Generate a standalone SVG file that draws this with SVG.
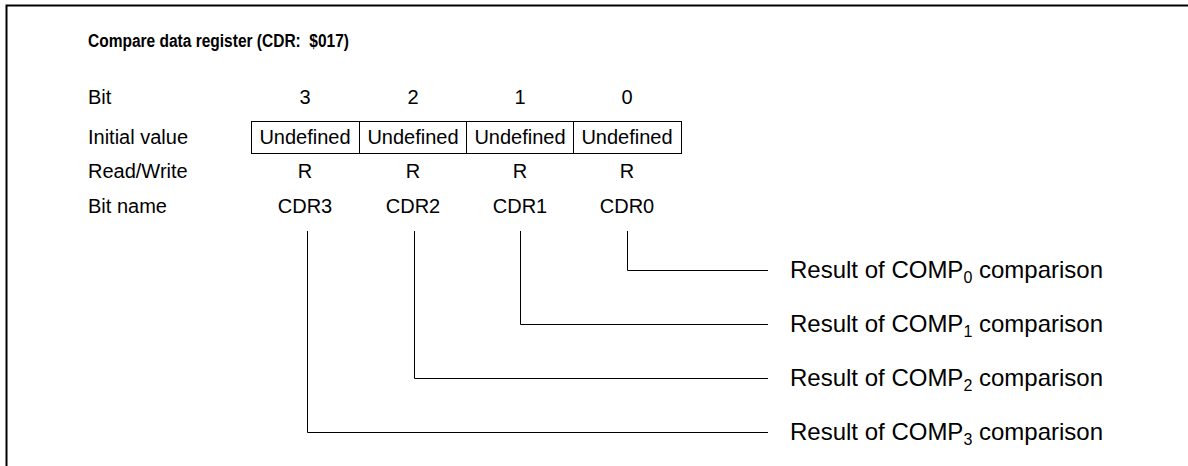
<svg xmlns="http://www.w3.org/2000/svg" width="1188" height="466" viewBox="0 0 1188 466">
<style>
text{font-family:"Liberation Sans",Arial,sans-serif;font-size:20px;fill:#000}
.t{font-weight:bold;font-size:18px}
.c{text-anchor:middle}
.u{font-size:20px}
.r{font-size:24px}
.s{font-size:16px}
.ln{fill:none;stroke:#000;stroke-width:1}
.fr{fill:none;stroke:#000;stroke-width:2}
</style>
<rect width="1188" height="466" fill="#fff"/>
<path class="fr" d="M6.5,466 V5.5 H1188"/>
<g id="title"><text class="t" x="88" y="47" xml:space="preserve" textLength="261" lengthAdjust="spacingAndGlyphs">Compare data register (CDR:  $017)</text></g>
<g id="labels">
<text x="88" y="104">Bit</text>
<text x="88" y="144">Initial value</text>
<text x="88" y="178">Read/Write</text>
<text x="88" y="213">Bit name</text>
</g>
<g id="bit3"><text class="c" x="305" y="104">3</text><rect class="ln" x="251.5" y="121.5" width="108" height="32"/><text class="c u" x="305" y="144">Undefined</text><text class="c" x="305" y="178">R</text><text class="c" x="305" y="213">CDR3</text></g>
<g id="bit2"><text class="c" x="413" y="104">2</text><rect class="ln" x="359.5" y="121.5" width="107" height="32"/><text class="c u" x="413" y="144">Undefined</text><text class="c" x="413" y="178">R</text><text class="c" x="413" y="213">CDR2</text></g>
<g id="bit1"><text class="c" x="520" y="104">1</text><rect class="ln" x="466.5" y="121.5" width="107" height="32"/><text class="c u" x="520" y="144">Undefined</text><text class="c" x="520" y="178">R</text><text class="c" x="520" y="213">CDR1</text></g>
<g id="bit0"><text class="c" x="627" y="104">0</text><rect class="ln" x="573.5" y="121.5" width="108" height="32"/><text class="c u" x="627" y="144">Undefined</text><text class="c" x="627" y="178">R</text><text class="c" x="627" y="213">CDR0</text></g>
<g id="connectors">
<path class="ln" d="M627.5,231 V270.5 H768"/>
<path class="ln" d="M520.5,231 V324.5 H768"/>
<path class="ln" d="M414.5,231 V378.5 H768"/>
<path class="ln" d="M307.5,231 V432.5 H768"/>
</g>
<g id="r0"><text class="r" x="790" y="278">Result of COMP<tspan class="s" dy="5">0</tspan><tspan dy="-5"> comparison</tspan></text></g>
<g id="r1"><text class="r" x="790" y="332">Result of COMP<tspan class="s" dy="5">1</tspan><tspan dy="-5"> comparison</tspan></text></g>
<g id="r2"><text class="r" x="790" y="386">Result of COMP<tspan class="s" dy="5">2</tspan><tspan dy="-5"> comparison</tspan></text></g>
<g id="r3"><text class="r" x="790" y="440">Result of COMP<tspan class="s" dy="5">3</tspan><tspan dy="-5"> comparison</tspan></text></g>
</svg>
